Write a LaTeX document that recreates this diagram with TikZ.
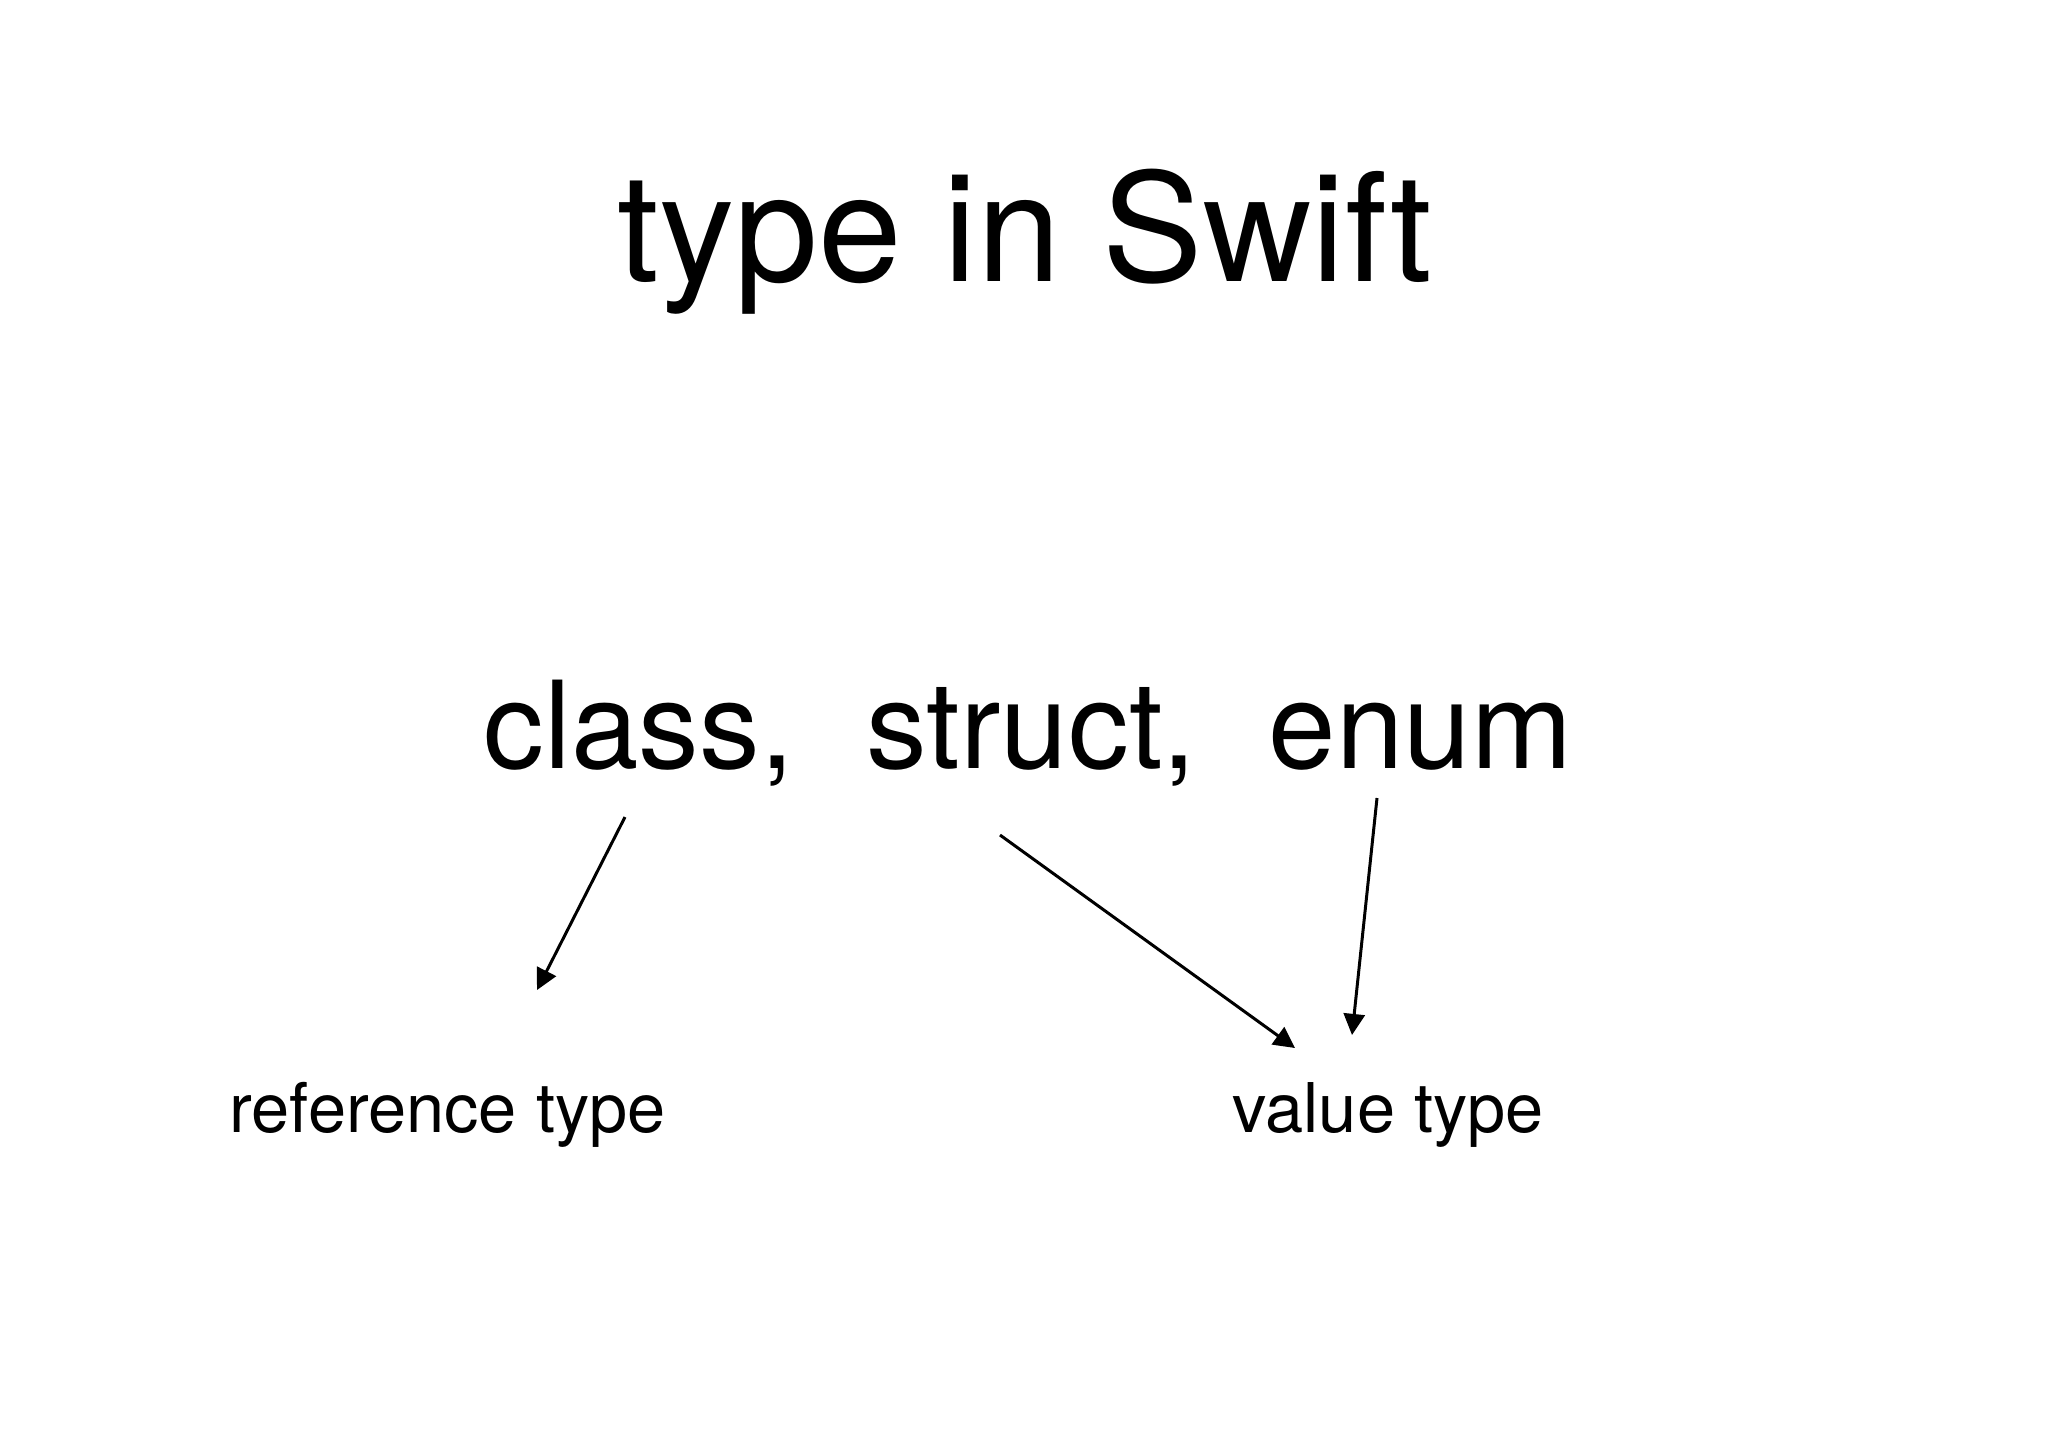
\documentclass[tikz,border=0pt]{standalone}
\usepackage{fontspec}
\setmainfont{TeX Gyre Heros}
\usetikzlibrary{arrows.meta}
\tikzset{
	word/.style={inner sep=0pt,anchor=base west},
	link/.style={line width=0.85pt,-{Triangle[length=6pt,width=6pt]}}
}
\begin{document}
\begin{tikzpicture}[x=0.01cm,y=-0.01cm]
	\useasboundingbox[fill=white](0,0)rectangle(2048,1447);
	\node[inner sep=0pt,anchor=base](title)at(1025,281){\fontsize{42.8}{48}\selectfont type in Swift};
	\node[word](class)at(483,768){\fontsize{34.5}{40}\selectfont class,};
	\node[word](struct)at(866,768){\fontsize{34.5}{40}\selectfont struct,};
	\node[word](enum)at(1268,768){\fontsize{34.5}{40}\selectfont enum};
	\node[word](ref)at(229,1132){\fontsize{19.5}{22}\selectfont reference type};
	\node[word](val)at(1232,1132){\fontsize{19.5}{22}\selectfont value type};
	% arrow ends
	\coordinate(classout)at(625,817);
	\coordinate(structout)at(1000,835);
	\coordinate(enumout)at(1377,798);
	\coordinate(refin)at(537,990);
	\coordinate(valin1)at(1295,1048);
	\coordinate(valin2)at(1352,1035);
	\draw[link](classout)--(refin);
	\draw[link](structout)--(valin1);
	\draw[link](enumout)--(valin2);
\end{tikzpicture}
\end{document}
